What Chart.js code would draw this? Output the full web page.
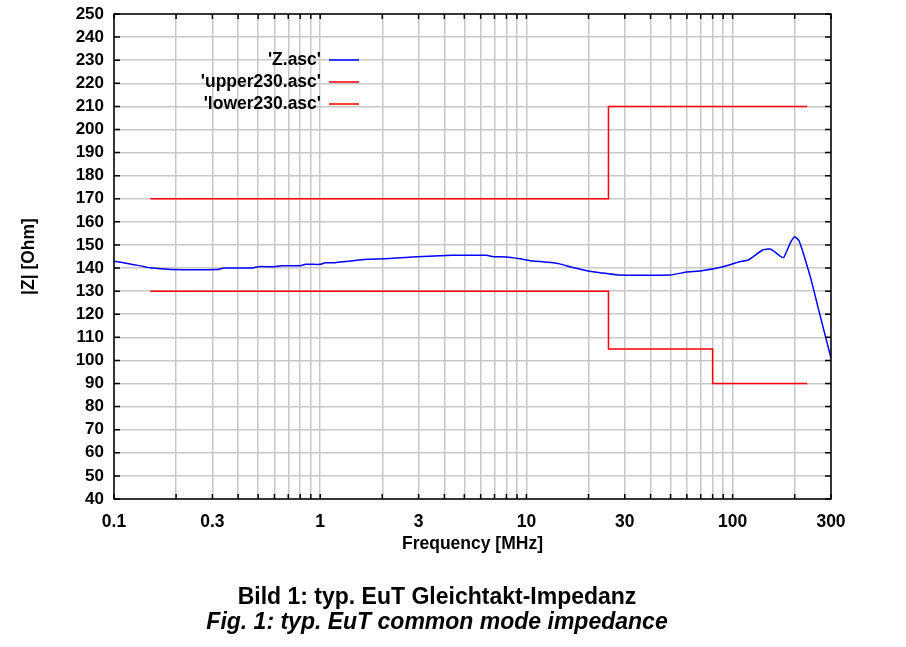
<!DOCTYPE html>
<html>
<head>
<meta charset="utf-8">
<script src="https://cdn.jsdelivr.net/npm/chart.js@4/dist/chart.umd.min.js"></script>
<style>
  body { margin: 0; background: #fff; }
  #wrap { width: 906px; height: 647px; }
</style>
</head>
<body>
<div id="wrap"><canvas id="impChart"></canvas></div>
<script>
// measured impedance 'Z.asc'
const zFreq = [0.1, 0.12, 0.15, 0.19, 0.32, 0.34, 0.47, 0.5, 0.6, 0.65, 0.8, 0.85, 1.0, 1.06, 1.18, 1.25,
  1.7, 2.25, 2.95, 4.35, 6.4, 6.9, 8.0, 9.3, 10.8, 13.5, 14.5, 16.8, 19.9, 22.7, 27.8, 50, 60, 69.5,
  90, 108, 119, 140, 152, 160, 170, 177, 190, 200, 210, 240, 259, 300];
const zVals = [143, 141.8, 140.1, 139.4, 139.4, 140, 140, 140.6, 140.6, 141, 141, 141.6, 141.6, 142.3, 142.3, 142.6,
  143.8, 144.2, 144.9, 145.5, 145.5, 144.9, 144.8, 144, 143, 142.3, 141.8, 140.2, 138.7, 138, 137, 137, 138.3, 138.7,
  140.6, 142.7, 143.5, 147.8, 148.2, 147, 145.2, 144.6, 150.7, 153.6, 151.8, 135.1, 123.3, 101];

// limit lines
const upperFreq = [0.15, 25, 25, 230];
const upperVals = [170, 170, 210, 210];
const lowerFreq = [0.15, 25, 25, 80, 80, 230];
const lowerVals = [130, 130, 105, 105, 90, 90];

const gridFreqs = [0.1, 0.2, 0.3, 0.4, 0.5, 0.6, 0.7, 0.8, 0.9, 1, 2, 3, 4, 5, 6, 7, 8, 9,
  10, 20, 30, 40, 50, 60, 70, 80, 90, 100, 200, 300];
const xTickLabels = ['0.1', '0.3', '1', '3', '10', '30', '100', '300'];

const seriesNames = ["'Z.asc'", "'upper230.asc'", "'lower230.asc'"];
const captionDe = 'Bild 1: typ. EuT Gleichtakt-Impedanz';
const captionEn = 'Fig. 1: typ. EuT common mode impedance';

const FONT = "'Liberation Sans', Arial, sans-serif";

function toPoints(xs, ys) {
  return xs.map((x, i) => ({ x: x, y: ys[i] }));
}

// frame box with inward tick marks
const framePlugin = {
  id: 'frame',
  afterDatasetsDraw(chart) {
    const { ctx, chartArea: a, scales } = chart;
    ctx.save();
    ctx.strokeStyle = '#000';
    ctx.lineWidth = 1.5;
    ctx.strokeRect(a.left, a.top, a.right - a.left, a.bottom - a.top);
    ctx.beginPath();
    scales.y.ticks.forEach(t => {
      const y = scales.y.getPixelForValue(t.value);
      ctx.moveTo(a.left, y); ctx.lineTo(a.left + 6, y);
      ctx.moveTo(a.right, y); ctx.lineTo(a.right - 6, y);
    });
    gridFreqs.forEach(f => {
      const x = scales.x.getPixelForValue(f);
      ctx.moveTo(x, a.bottom); ctx.lineTo(x, a.bottom - 5);
      ctx.moveTo(x, a.top); ctx.lineTo(x, a.top + 5);
    });
    ctx.stroke();
    ctx.restore();
  }
};

// legend: right aligned text, line sample after it
const legendPlugin = {
  id: 'rightLegend',
  afterDatasetsDraw(chart) {
    const ctx = chart.ctx;
    ctx.save();
    ctx.font = 'bold 17.5px ' + FONT;
    ctx.textAlign = 'right';
    ctx.textBaseline = 'middle';
    chart.data.datasets.forEach((ds, i) => {
      const y = 60 + i * 22;
      ctx.fillStyle = '#000';
      ctx.fillText(ds.label, 321, y);
      ctx.strokeStyle = ds.borderColor;
      ctx.lineWidth = 1.5;
      ctx.beginPath();
      ctx.moveTo(329, y); ctx.lineTo(359, y);
      ctx.stroke();
    });
    ctx.restore();
  }
};

const captionPlugin = {
  id: 'caption',
  afterDraw(chart) {
    const ctx = chart.ctx;
    ctx.save();
    ctx.fillStyle = '#000';
    ctx.textAlign = 'center';
    ctx.textBaseline = 'middle';
    ctx.font = 'bold 23px ' + FONT;
    ctx.fillText(captionDe, 437, 598);
    ctx.font = 'italic bold 23px ' + FONT;
    ctx.fillText(captionEn, 437, 623);
    ctx.restore();
  }
};

const ctx = document.getElementById('impChart');

var chart = new Chart(ctx, {
  type: 'line',
  data: {
    datasets: [{
      label: seriesNames[0],
      data: toPoints(zFreq, zVals),
      borderColor: '#0000ff',
      borderWidth: 1.5,
      pointRadius: 0,
      tension: 0.15
    }, {
      label: seriesNames[1],
      data: toPoints(upperFreq, upperVals),
      borderColor: '#ff0000',
      borderWidth: 1.5,
      pointRadius: 0
    }, {
      label: seriesNames[2],
      data: toPoints(lowerFreq, lowerVals),
      borderColor: '#ff0000',
      borderWidth: 1.5,
      pointRadius: 0
    }]
  },
  options: {
    responsive: true,
    maintainAspectRatio: false,
    animation: false,
    layout: { padding: { left: 0, right: 75, top: 14, bottom: 88 } },
    plugins: {
      legend: { display: false },
      tooltip: { enabled: false }
    },
    scales: {
      x: {
        type: 'logarithmic',
        min: 0.1,
        max: 300,
        afterBuildTicks: scale => { scale.ticks = gridFreqs.map(v => ({ value: v })); },
        afterFit: scale => { scale.height = 60; scale.paddingLeft = 0; scale.paddingRight = 0; },
        grid: { color: '#c8c8c8', lineWidth: 1.5, drawTicks: false },
        border: { display: false },
        ticks: {
          autoSkip: false,
          maxRotation: 0,
          padding: 13,
          color: '#000',
          font: { family: FONT, size: 17.5, weight: 'bold' },
          callback: function (value) {
            const s = String(Math.round(value * 10) / 10);
            return xTickLabels.includes(s) ? s : '';
          }
        },
        title: {
          display: true,
          text: 'Frequency [MHz]',
          color: '#000',
          padding: { top: 0, bottom: 4 },
          font: { family: FONT, size: 17.5, weight: 'bold' }
        }
      },
      y: {
        min: 40,
        max: 250,
        afterFit: scale => { scale.width = 114; scale.paddingTop = 0; scale.paddingBottom = 0; },
        grid: { color: '#c8c8c8', lineWidth: 1.5, drawTicks: false },
        border: { display: false },
        ticks: {
          stepSize: 10,
          autoSkip: false,
          padding: 10,
          color: '#000',
          font: { family: FONT, size: 17, weight: 'bold' }
        },
        title: {
          display: true,
          text: '|Z| [Ohm]',
          color: '#000',
          padding: { top: 19, bottom: 0 },
          font: { family: FONT, size: 17.5, weight: 'bold' }
        }
      }
    }
  },
  plugins: [framePlugin, legendPlugin, captionPlugin]
});
</script>
</body>
</html>
